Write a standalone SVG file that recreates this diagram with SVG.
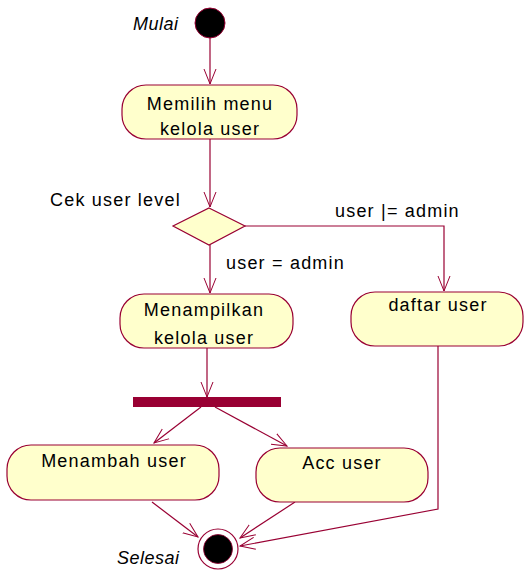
<svg xmlns="http://www.w3.org/2000/svg" width="532" height="573" viewBox="0 0 532 573">
<defs>
<marker id="arr" markerUnits="userSpaceOnUse" markerWidth="20" markerHeight="14" refX="15" refY="7" orient="auto">
<path d="M0,1 L15,7 L0,13" fill="none" stroke="#990033" stroke-width="1"/>
</marker>
<style>
.ln{fill:none;stroke:#990033;stroke-width:1.2}
.box{fill:#FFFFCC;stroke:#990033;stroke-width:1.2}
.t{font-family:"Liberation Sans",Arial,sans-serif;font-size:18px;letter-spacing:1.2px;fill:#000}
.c{text-anchor:middle}
.i{font-style:italic;letter-spacing:0.5px}
</style>
</defs>
<rect width="532" height="573" fill="#fff"/>
<g id="connectors">
<path class="ln" d="M210,38 L210,84" marker-end="url(#arr)"/>
<path class="ln" d="M210,139 L210,207" marker-end="url(#arr)"/>
<path class="ln" d="M245,226 L444,226 L444,291" marker-end="url(#arr)"/>
<path class="ln" d="M210,245 L210,293" marker-end="url(#arr)"/>
<path class="ln" d="M207,348 L207,397" marker-end="url(#arr)"/>
<path class="ln" d="M201,407 L154,443" marker-end="url(#arr)"/>
<path class="ln" d="M215,407 L287,446" marker-end="url(#arr)"/>
<path class="ln" d="M152,502 L198,537" marker-end="url(#arr)"/>
<path class="ln" d="M295,502 L240,538" marker-end="url(#arr)"/>
<path class="ln" d="M438,346 L438,509 L240,546" marker-end="url(#arr)"/>
</g>
<g id="start">
<circle cx="210" cy="23" r="15" fill="#000" stroke="#990033" stroke-width="1"/>
<text class="t i" x="133" y="30">Mulai</text>
</g>
<g id="memilih">
<rect class="box" x="122" y="85" width="175" height="54" rx="24" ry="24"/>
<text class="t c" x="210" y="110">Memilih menu</text>
<text class="t c" x="210" y="135">kelola user</text>
</g>
<g id="cek">
<polygon class="box" points="209,208 245,226 209,245 173,226"/>
<text class="t" x="50" y="206">Cek user level</text>
</g>
<g id="labels">
<text class="t" x="335" y="217">user |= admin</text>
<text class="t" x="226" y="269">user = admin</text>
</g>
<g id="menampilkan">
<rect class="box" x="120" y="294" width="173" height="54" rx="24" ry="24"/>
<text class="t c" x="204" y="316">Menampilkan</text>
<text class="t c" x="204" y="344">kelola user</text>
</g>
<g id="daftar">
<rect class="box" x="351" y="292" width="172" height="54" rx="24" ry="24"/>
<text class="t c" x="438" y="311">daftar user</text>
</g>
<g id="fork">
<rect x="133" y="397" width="148" height="10" fill="#990033"/>
</g>
<g id="menambah">
<rect class="box" x="7" y="445" width="212" height="55" rx="24" ry="24"/>
<text class="t c" x="114" y="467">Menambah user</text>
</g>
<g id="acc">
<rect class="box" x="256" y="448" width="172" height="54" rx="24" ry="24"/>
<text class="t c" x="342" y="469">Acc user</text>
</g>
<g id="end">
<circle cx="218" cy="549" r="20" fill="#fff" stroke="#990033" stroke-width="1.2"/>
<circle cx="218" cy="549" r="14.5" fill="#000" stroke="#990033" stroke-width="0.8"/>
<text class="t i" x="117" y="564">Selesai</text>
</g>
</svg>
